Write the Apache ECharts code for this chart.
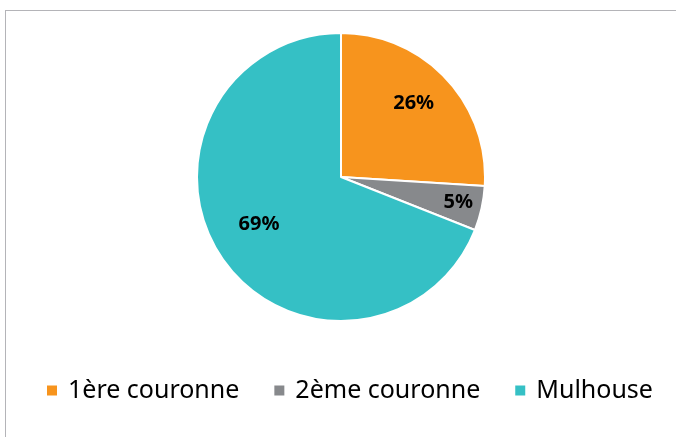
<!DOCTYPE html>
<html>
<head>
<meta charset="utf-8">
<script src="https://cdn.jsdelivr.net/npm/echarts@6/dist/echarts.min.js"></script>
<style>
  html, body { margin: 0; padding: 0; background: #fff; }
  #wrap { position: relative; width: 676px; height: 437px; overflow: hidden; }
  #frame { position: absolute; left: 5px; top: 10px; width: 700px; height: 460px; border: 1px solid #b4b4b8; box-sizing: border-box; }
  #chart { position: absolute; left: 0; top: 0; width: 676px; height: 437px; }
</style>
</head>
<body>
<div id="wrap">
  <div id="frame"></div>
  <div id="chart"></div>
</div>
<script>
// parts of the pie
var categories = ['1ère couronne', '2ème couronne', 'Mulhouse'];
var values = [26, 5, 69];
var colors = ['#f7941d', '#87898c', '#35c0c5'];

// nudges so the labels sit where the original put them
var labelOffsets = [[18, -22], [44, 9], [-20, 5]];

var chart = echarts.init(document.getElementById('chart'));

var pieData = categories.map(function (name, i) {
  return {
    name: name,
    value: values[i],
    itemStyle: { color: colors[i] },
    label: { offset: labelOffsets[i] }
  };
});

chart.setOption({
  animation: false,
  legend: {
    data: categories,
    bottom: 29,
    left: 40,
    icon: 'rect',
    itemWidth: 12,
    itemHeight: 12,
    itemGap: 33,
    textStyle: {
      fontFamily: 'Noto Sans',
      fontSize: 25,
      color: '#000',
      padding: [0, 0, 0, 5]
    }
  },
  series: [
    {
      type: 'pie',
      center: [341, 177],
      radius: 144,
      startAngle: 90,
      clockwise: true,
      data: pieData,
      itemStyle: { borderColor: '#fff', borderWidth: 2 },
      label: {
        show: true,
        position: 'inside',
        formatter: '{c}%',
        fontFamily: 'Noto Sans',
        fontWeight: 'bold',
        fontSize: 20,
        color: '#000'
      },
      labelLine: { show: false },
      emphasis: { disabled: true }
    }
  ]
});
</script>
</body>
</html>
